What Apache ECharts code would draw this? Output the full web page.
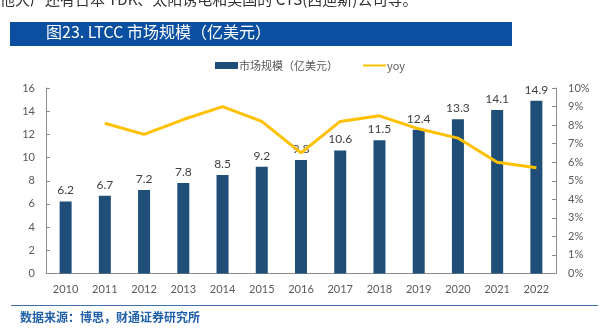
<!DOCTYPE html>
<html>
<head>
<meta charset="utf-8">
<script src="https://cdn.jsdelivr.net/npm/echarts@6/dist/echarts.min.js"></script>
<style>
html,body{margin:0;padding:0;background:#fff;}
#chart{width:611px;height:335px;}
</style>
</head>
<body>
<div id="chart"></div>
<script>
// LTCC market size (USD 100m) and year-on-year growth
var years = ['2010','2011','2012','2013','2014','2015','2016','2017','2018','2019','2020','2021','2022'];
var marketSize = [6.2, 6.7, 7.2, 7.8, 8.5, 9.2, 9.8, 10.6, 11.5, 12.4, 13.3, 14.1, 14.9];
var yoy = [null, 8.1, 7.5, 8.3, 9.0, 8.2, 6.5, 8.2, 8.5, 7.8, 7.3, 6.0, 5.7];
var leftTicks = [0, 16, 2];
var rightTicks = [0, 10, 1];

var numFont = 'Lato, "Noto Sans", sans-serif';
var cjkFont = '"Noto Sans CJK SC", sans-serif';
var axisGray = '#8c8c8c';
var textGray = '#595959';

var chart = echarts.init(document.getElementById('chart'), null, {renderer: 'canvas'});
chart.setOption({
  animation: false,
  backgroundColor: '#ffffff',
  graphic: [
    {type: 'text', left: 0, top: -8, style: {text: '他大厂还有日本 TDK、太阳诱电和美国的 CTS(西迪斯)公司等。', font: '15px ' + cjkFont, fill: '#333333'}},
    {type: 'rect', shape: {x: 10, y: 22, width: 502, height: 24}, style: {fill: '#0b50a0'}},
    {type: 'text', left: 46, top: 24, style: {text: '图23. LTCC 市场规模（亿美元）', font: '16px ' + cjkFont, fill: '#ffffff'}},
    {type: 'line', shape: {x1: 11, y1: 305.5, x2: 598, y2: 305.5}, style: {stroke: '#3d6fa8', lineWidth: 1.2}},
    {type: 'text', left: 20, top: 311, style: {text: '数据来源：博思，财通证券研究所', font: 'bold 12px ' + cjkFont, fill: '#1f5fa8'}}
  ],
  legend: {
    top: 55, left: 210,
    itemGap: 24,
    itemWidth: 23, itemHeight: 7,
    textStyle: {fontFamily: cjkFont, fontSize: 11, color: textGray, padding: [0, 0, 0, -4]},
    data: [
      {name: '市场规模（亿美元）', icon: 'rect'},
      {name: 'yoy', itemStyle: {opacity: 0}}
    ]
  },
  grid: {left: 46, right: 55, top: 88, bottom: 61.5, containLabel: false},
  xAxis: {
    type: 'category',
    data: years,
    axisLine: {lineStyle: {color: axisGray, width: 1}},
    axisTick: {inside: true, length: 4, lineStyle: {color: axisGray}},
    axisLabel: {fontFamily: numFont, fontSize: 11, color: textGray, margin: 10}
  },
  yAxis: [
    {
      type: 'value', min: leftTicks[0], max: leftTicks[1], interval: leftTicks[2],
      axisLine: {show: true, lineStyle: {color: axisGray}},
      axisTick: {show: true, inside: true, length: 4, lineStyle: {color: axisGray}},
      axisLabel: {fontFamily: numFont, fontSize: 11, color: textGray, margin: 11},
      splitLine: {show: false}
    },
    {
      type: 'value', min: rightTicks[0], max: rightTicks[1], interval: rightTicks[2],
      position: 'right',
      axisLine: {show: true, lineStyle: {color: axisGray}},
      axisTick: {show: true, inside: true, length: 4, lineStyle: {color: axisGray}},
      axisLabel: {fontFamily: numFont, fontSize: 11, color: textGray, margin: 12, formatter: '{value}%'},
      splitLine: {show: false}
    }
  ],
  series: [
    {
      name: '市场规模（亿美元）',
      type: 'bar',
      data: marketSize,
      barWidth: 12,
      itemStyle: {color: '#1f4e79'},
      label: {show: true, position: 'top', distance: 5, fontFamily: numFont, fontSize: 12, color: '#404040'}
    },
    {
      name: 'yoy',
      type: 'line',
      yAxisIndex: 1,
      data: yoy,
      symbol: 'none',
      lineStyle: {color: '#ffc000', width: 3},
      itemStyle: {color: '#ffc000'},
      z: 5
    }
  ]
});
</script>
</body>
</html>
